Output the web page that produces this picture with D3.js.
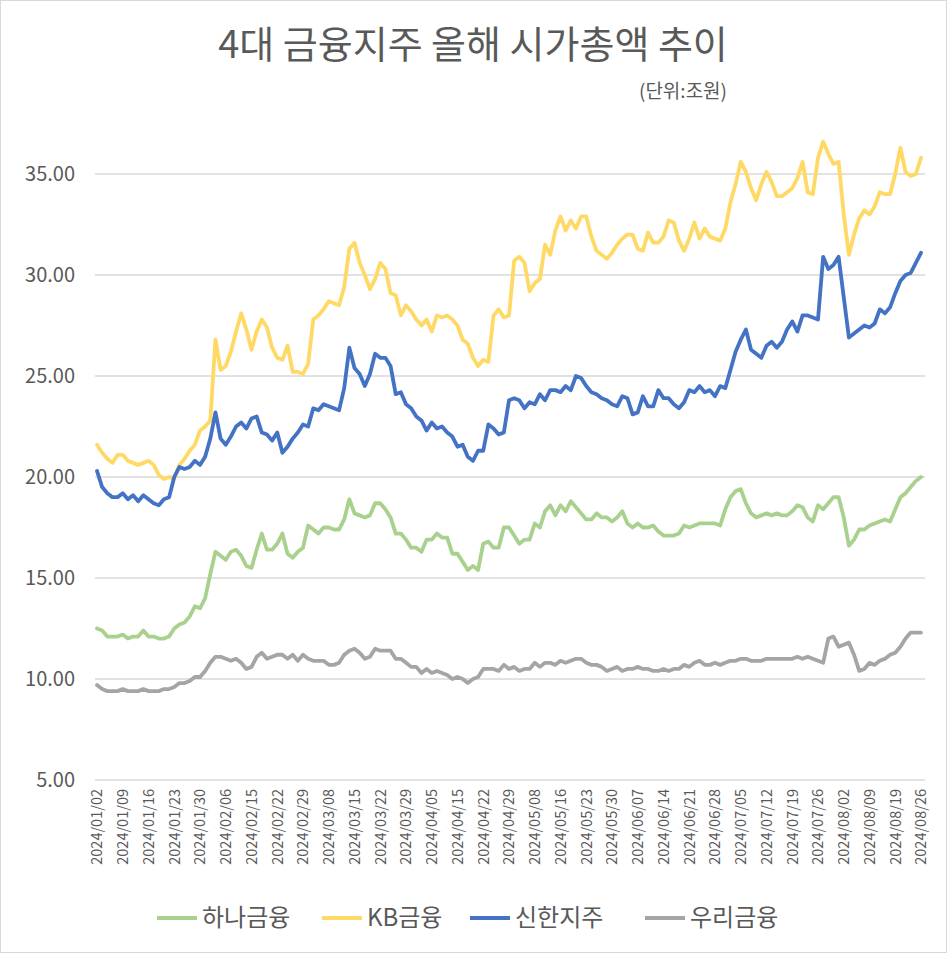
<!DOCTYPE html>
<html>
<head>
<meta charset="utf-8">
<script src="https://cdn.jsdelivr.net/npm/d3@7"></script>
<style>
  body { margin: 0; background: #fff; }
  svg text { font-family: "Noto Sans CJK KR", "Noto Sans", sans-serif; fill: #595959; }
</style>
</head>
<body>
<svg id="chart" width="947" height="953"></svg>
<script>
// trading days 2024/01/02 ~ 2024/08/26 (KRX holidays excluded)
const holidays = ["2024-02-09", "2024-02-12", "2024-03-01", "2024-04-10", "2024-05-01",
                  "2024-05-06", "2024-05-15", "2024-06-06", "2024-08-15"];
const startDay = "2024-01-02", endDay = "2024-08-26";
const yTicks = [5, 10, 15, 20, 25, 30, 35];

const hana = [
  12.5,12.4,12.1,12.1,12.1, 12.2,12.0,12.1,12.1,12.4, 12.1,12.1,12.0,12.0,12.1,
  12.5,12.7,12.8,13.1,13.6, 13.5,14.0,15.2,16.3,16.1, 15.9,16.3,16.4,16.1,15.6,
  15.5,16.4,17.2,16.4,16.4, 16.7,17.2,16.2,16.0,16.3, 16.5,17.6,17.4,17.2,17.5,
  17.5,17.4,17.4,17.9,18.9, 18.2,18.1,18.0,18.1,18.7, 18.7,18.4,18.0,17.2,17.2,
  16.9,16.5,16.5,16.3,16.9, 16.9,17.2,17.0,17.0,16.2, 16.2,15.8,15.4,15.6,15.4,
  16.7,16.8,16.5,16.5,17.5, 17.5,17.1,16.7,16.9,16.9, 17.7,17.5,18.3,18.6,18.1,
  18.6,18.3,18.8,18.5,18.2, 17.9,17.9,18.2,18.0,18.0, 17.8,18.0,18.3,17.7,17.5,
  17.7,17.5,17.5,17.6,17.3, 17.1,17.1,17.1,17.2,17.6, 17.5,17.6,17.7,17.7,17.7,
  17.7,17.6,18.4,19.0,19.3, 19.4,18.7,18.2,18.0,18.1, 18.2,18.1,18.2,18.1,18.1,
  18.3,18.6,18.5,18.0,17.8, 18.6,18.4,18.7,19.0,19.0, 18.0,16.6,16.9,17.4,17.4,
  17.6,17.7,17.8,17.9,17.8, 18.4,19.0,19.2,19.5,19.8,20.0
];
const kb = [
  21.6,21.2,20.9,20.7,21.1, 21.1,20.8,20.7,20.6,20.7, 20.8,20.6,20.1,19.9,20.0,
  19.9,20.6,20.9,21.3,21.6, 22.3,22.5,22.8,26.8,25.3, 25.5,26.2,27.2,28.1,27.3,
  26.3,27.2,27.8,27.4,26.4, 25.9,25.8,26.5,25.2,25.2, 25.1,25.6,27.8,28.0,28.3,
  28.7,28.6,28.5,29.4,31.3, 31.6,30.6,30.0,29.3,29.8, 30.6,30.3,29.1,29.0,28.0,
  28.5,28.2,27.8,27.5,27.8, 27.2,28.0,27.9,28.0,27.8, 27.5,26.8,26.6,25.9,25.5,
  25.8,25.7,28.0,28.3,27.9, 28.0,30.7,30.9,30.6,29.2, 29.6,29.8,31.5,31.0,32.2,
  32.9,32.2,32.7,32.3,32.9, 32.9,31.9,31.2,31.0,30.8, 31.1,31.5,31.8,32.0,32.0,
  31.3,31.2,32.1,31.6,31.6, 31.9,32.7,32.6,31.7,31.2, 31.8,32.6,31.8,32.3,31.9,
  31.8,31.7,32.3,33.6,34.5, 35.6,35.1,34.3,33.7,34.5, 35.1,34.6,33.9,33.9,34.1,
  34.3,34.8,35.6,34.1,34.0, 35.8,36.6,36.0,35.5,35.6, 33.0,31.0,32.0,32.8,33.2,
  33.0,33.4,34.1,34.0,34.0, 35.0,36.3,35.1,34.9,35.0,35.8
];
const shinhan = [
  20.3,19.5,19.2,19.0,19.0, 19.2,18.9,19.1,18.8,19.1, 18.9,18.7,18.6,18.9,19.0,
  20.0,20.5,20.4,20.5,20.8, 20.6,21.0,21.9,23.2,21.9, 21.6,22.0,22.5,22.7,22.4,
  22.9,23.0,22.2,22.1,21.8, 22.2,21.2,21.5,21.9,22.2, 22.6,22.5,23.4,23.3,23.6,
  23.5,23.4,23.3,24.4,26.4, 25.4,25.1,24.5,25.1,26.1, 25.9,25.9,25.5,24.1,24.2,
  23.6,23.4,23.0,22.8,22.3, 22.7,22.4,22.5,22.2,22.0, 21.5,21.6,21.0,20.8,21.3,
  21.3,22.6,22.4,22.1,22.2, 23.8,23.9,23.8,23.4,23.7, 23.6,24.1,23.8,24.3,24.3,
  24.2,24.5,24.3,25.0,24.9, 24.5,24.2,24.1,23.9,23.8, 23.6,23.5,24.0,23.9,23.1,
  23.2,24.0,23.5,23.5,24.3, 23.9,23.9,23.6,23.4,23.7, 24.3,24.2,24.5,24.2,24.3,
  24.0,24.5,24.4,25.3,26.2, 26.8,27.3,26.3,26.1,25.9, 26.5,26.7,26.4,26.7,27.3,
  27.7,27.2,28.0,28.0,27.9, 27.8,30.9,30.3,30.5,30.9, 28.9,26.9,27.1,27.3,27.5,
  27.4,27.6,28.3,28.1,28.4, 29.1,29.7,30.0,30.1,30.6,31.1
];
const woori = [
  9.7,9.5,9.4,9.4,9.4, 9.5,9.4,9.4,9.4,9.5, 9.4,9.4,9.4,9.5,9.5,
  9.6,9.8,9.8,9.9,10.1, 10.1,10.4,10.8,11.1,11.1, 11.0,10.9,11.0,10.8,10.5,
  10.6,11.1,11.3,11.0,11.1, 11.2,11.2,11.0,11.2,10.9, 11.2,11.0,10.9,10.9,10.9,
  10.7,10.7,10.8,11.2,11.4, 11.5,11.3,11.0,11.1,11.5, 11.4,11.4,11.4,11.0,11.0,
  10.8,10.6,10.6,10.3,10.5, 10.3,10.4,10.3,10.2,10.0, 10.1,10.0,9.8,10.0,10.1,
  10.5,10.5,10.5,10.4,10.7, 10.5,10.6,10.4,10.5,10.5, 10.8,10.6,10.8,10.8,10.7,
  10.9,10.8,10.9,11.0,11.0, 10.8,10.7,10.7,10.6,10.4, 10.5,10.6,10.4,10.5,10.5,
  10.6,10.5,10.5,10.4,10.4, 10.5,10.4,10.5,10.5,10.7, 10.6,10.8,10.9,10.7,10.7,
  10.8,10.7,10.8,10.9,10.9, 11.0,11.0,10.9,10.9,10.9, 11.0,11.0,11.0,11.0,11.0,
  11.0,11.1,11.0,11.1,11.0, 10.9,10.8,12.0,12.1,11.6, 11.7,11.8,11.2,10.4,10.5,
  10.8,10.7,10.9,11.0,11.2, 11.3,11.6,12.0,12.3,12.3,12.3
];

const seriesNames = ["하나금융", "KB금융", "신한지주", "우리금융"];
const seriesColors = ["#A9D18E", "#FFD966", "#4472C4", "#A5A5A5"];
const seriesValues = [hana, kb, shinhan, woori];

// build trading-day list
const fmt = d3.timeFormat("%Y-%m-%d");
const lbl = d3.timeFormat("%Y/%m/%d");
const dates = d3.timeDay.range(new Date(startDay + "T00:00"), d3.timeDay.offset(new Date(endDay + "T00:00"), 1))
  .filter(d => d.getDay() !== 0 && d.getDay() !== 6 && !holidays.includes(fmt(d)))
  .map(d => lbl(d));

const svg = d3.select("#chart");

svg.append("rect")
  .attr("x", 0.5).attr("y", 0.5).attr("width", 946).attr("height", 952)
  .attr("fill", "#fff").attr("stroke", "#d9d9d9");

svg.append("text")
  .attr("x", 473).attr("y", 58).attr("text-anchor", "middle")
  .attr("font-size", 38).text("4대 금융지주 올해 시가총액 추이");
svg.append("text")
  .attr("x", 683).attr("y", 98).attr("text-anchor", "middle")
  .attr("font-size", 19).text("(단위:조원)");

const x = d3.scalePoint().domain(dates).range([97, 921]);
const y = d3.scaleLinear().domain([5, 35]).range([780, 174]);

// gridlines
svg.append("g").selectAll("line")
  .data(yTicks.slice(1))
  .join("line")
  .attr("x1", 95).attr("x2", 925)
  .attr("y1", d => y(d)).attr("y2", d => y(d))
  .attr("stroke", "#d9d9d9").attr("stroke-width", 1.3);

// y axis
const yAxis = svg.append("g")
  .attr("transform", "translate(95,0)")
  .call(d3.axisLeft(y).tickValues(yTicks).tickFormat(d3.format(".2f")).tickSize(0).tickPadding(20));
yAxis.select(".domain").remove();
yAxis.selectAll("text").attr("font-size", 20).attr("fill", "#595959");

// x axis
const xAxis = svg.append("g")
  .attr("transform", "translate(0,780)")
  .call(d3.axisBottom(x).tickValues(dates.filter((d, i) => i % 5 === 0)).tickSize(0));
xAxis.select(".domain").attr("stroke", "#d9d9d9").attr("stroke-width", 1.3)
  .attr("d", "M95,0H925");
xAxis.selectAll("text")
  .attr("font-size", 14.5).attr("fill", "#595959")
  .attr("text-anchor", "end")
  .attr("transform", "rotate(-90)")
  .attr("dx", "-9").attr("dy", "0.33em").attr("y", 0).attr("x", 0);

// lines
const line = d3.line().x((d, i) => x(dates[i])).y(d => y(d));
svg.append("g").selectAll("path")
  .data(seriesValues)
  .join("path")
  .attr("d", line)
  .attr("fill", "none")
  .attr("stroke", (d, i) => seriesColors[i])
  .attr("stroke-width", 3.8)
  .attr("stroke-linejoin", "round")
  .attr("stroke-linecap", "round");

// legend
const legendX = [157, 322, 470, 645];
const legend = svg.append("g").selectAll("g")
  .data(seriesNames)
  .join("g")
  .attr("transform", (d, i) => `translate(${legendX[i]},918)`);
legend.append("line")
  .attr("x1", 0).attr("x2", 40)
  .attr("stroke", (d, i) => seriesColors[i]).attr("stroke-width", 3.8);
legend.append("text")
  .attr("x", 45).attr("dy", "0.35em")
  .attr("font-size", 24).text(d => d);
</script>
</body>
</html>
